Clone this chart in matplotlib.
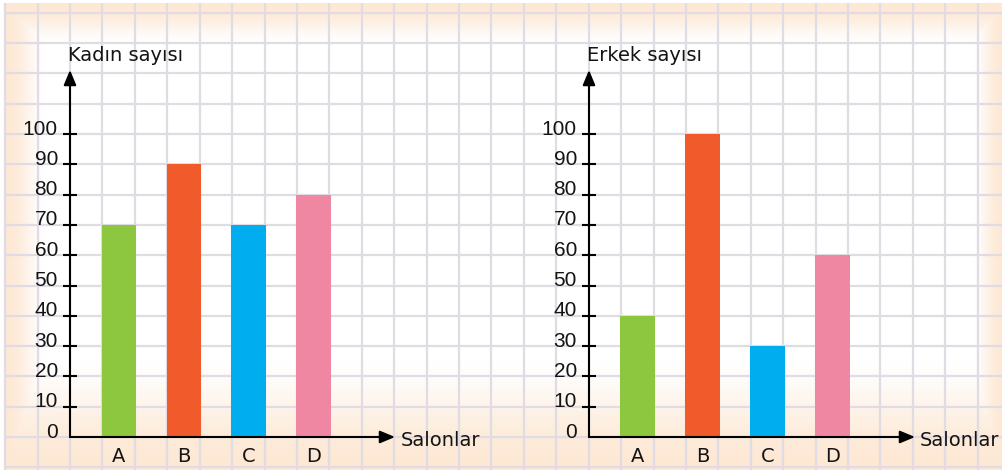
import numpy as np
import matplotlib
matplotlib.use("Agg")
import matplotlib.pyplot as plt
from matplotlib.transforms import ScaledTranslation

# ---- data ----
categories = ["A", "B", "C", "D"]
kadin = [70, 90, 70, 80]
erkek = [40, 100, 30, 60]
bar_colors = ["#8DC63F", "#F15A2B", "#00AEEF", "#F087A2"]
yticks = list(range(0, 101, 10))
left_title = "Kadın sayısı"
right_title = "Erkek sayısı"
xlabel = "Salonlar"

W, H = 1003, 470
DPI = 100
fig = plt.figure(figsize=(W / DPI, H / DPI), dpi=DPI)
plt.rcParams['font.family'] = ['DejaVu Sans']

# ---- background: grid paper with peach vignette ----
bg = fig.add_axes([0, 0, 1, 1])
bg.set_xlim(0, W)
bg.set_ylim(H, 0)
bg.axis("off")

yy, xx = np.mgrid[0:H, 0:W].astype(float)
top = np.clip(1 - (yy - 3) / 40.0, 0, 1)
left = np.clip(1 - (xx - 4) / 40.0, 0, 1)
right = np.clip(1 - (W - xx) / 30.0, 0, 1)
bottom = np.clip(1 - (H - yy) / 110.0, 0, 1)
a = np.maximum.reduce([top, left, right, bottom])
a = np.sin(a * np.pi / 2) ** 1.5
a[(yy < 3) | (xx < 4)] = 0
peach = np.array([253, 232, 212]) / 255.0
img = np.ones((H, W, 3)) * (1 - a[..., None]) + peach * a[..., None]
bg.imshow(img, extent=(0, W, H, 0), aspect="auto", zorder=0, interpolation="bilinear")

gx0, gdx = 70.0, 32.42
gy0, gdy = 437.0, 30.3
grid_col = "#E1DCE3"
for k in range(-2, 30):
    x = gx0 + k * gdx
    if 3 <= x <= W:
        bg.plot([x, x], [3, H], color=grid_col, lw=1.6, zorder=1, solid_capstyle="butt")
for k in range(-1, 15):
    y = gy0 - k * gdy
    if 3 <= y <= H:
        bg.plot([4, W], [y, y], color=grid_col, lw=1.6, zorder=1, solid_capstyle="butt")

txt_col = "#141414"
bg.text(68, 61, left_title, fontsize=14, ha="left", va="baseline", color=txt_col)
bg.text(587, 61, right_title, fontsize=14, ha="left", va="baseline", color=txt_col)
bg.text(401, 440, xlabel, fontsize=14, ha="left", va="center", color=txt_col)
bg.text(920, 440, xlabel, fontsize=14, ha="left", va="center", color=txt_col)


def make_panel(x_axis_px, x_tip_px, center0_px, spacing_px, values):
    y0_px, ytip_px = 437.0, 70.0
    ax = fig.add_axes([x_axis_px / W, (H - y0_px) / H,
                       (x_tip_px - x_axis_px) / W, (y0_px - ytip_px) / H])
    ax.patch.set_alpha(0)
    xmin = -(center0_px - x_axis_px) / spacing_px
    xmax = xmin + (x_tip_px - x_axis_px) / spacing_px
    ax.set_xlim(xmin, xmax)
    ax.set_ylim(0, (y0_px - ytip_px) / 3.03)
    ax.bar(range(len(categories)), values, width=0.53, color=bar_colors, zorder=2)
    for s in ax.spines.values():
        s.set_visible(False)
    arrow = dict(arrowstyle="-|>,head_length=0.6,head_width=0.25", lw=1.5,
                 color="black", mutation_scale=15, shrinkA=0, shrinkB=0)
    ax.annotate("", xy=(1, 0), xytext=(0, 0), xycoords="axes fraction",
                arrowprops=arrow, zorder=3)
    ax.annotate("", xy=(0, 1), xytext=(0, 0), xycoords="axes fraction",
                arrowprops=arrow, zorder=3)
    ax.set_yticks(yticks)
    ax.set_yticklabels([str(v) for v in yticks])
    ax.tick_params(axis="y", direction="inout", length=9.4, width=1.5,
                   labelsize=15, pad=4, colors="black")
    ax.yaxis.get_major_ticks()[0].tick1line.set_visible(False)
    off = ScaledTranslation(0, 5 / 72, fig.dpi_scale_trans)
    for lab in ax.get_yticklabels():
        lab.set_transform(lab.get_transform() + off)
        lab.set_color(txt_col)
        lab.set_fontfamily("Liberation Sans")
    ax.set_xticks(range(len(categories)))
    ax.set_xticklabels(categories)
    ax.tick_params(axis="x", length=0, labelsize=14, pad=7)
    for lab in ax.get_xticklabels():
        lab.set_color(txt_col)
    return ax


make_panel(70, 395, 119, 64.8, kadin)
make_panel(589, 915, 637.5, 65.0, erkek)

fig.savefig("out.png", dpi=DPI)
